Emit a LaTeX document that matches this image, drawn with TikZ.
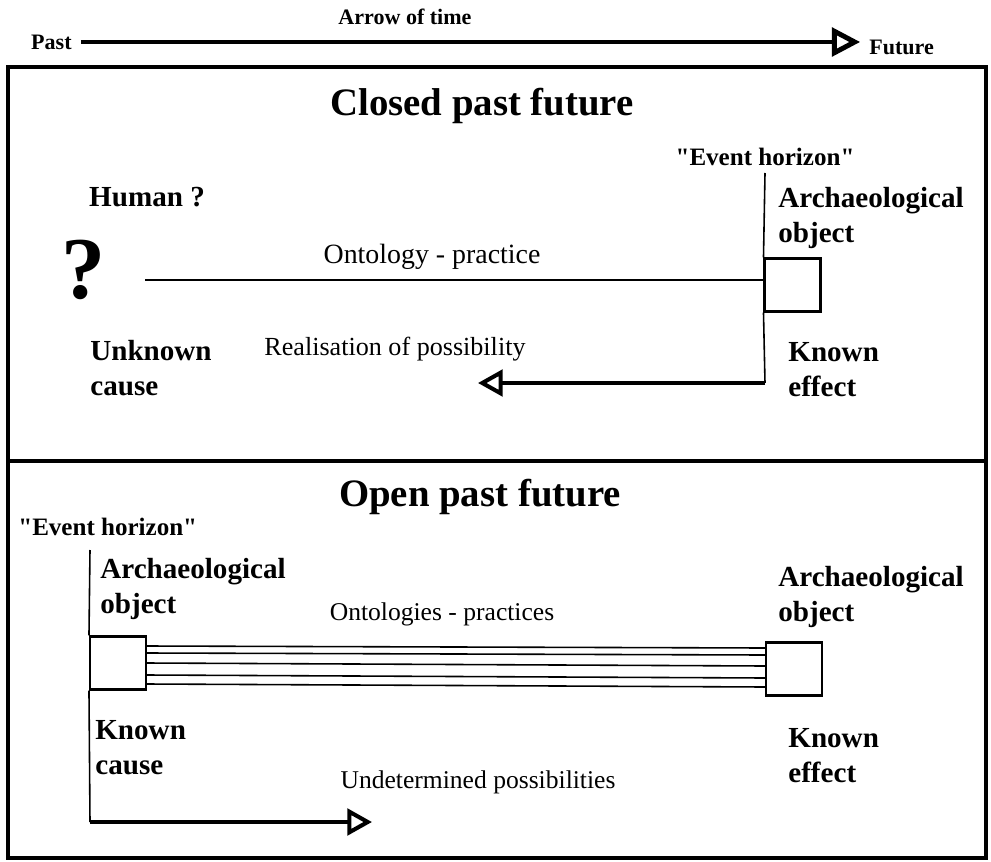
\documentclass[tikz,border=0pt]{standalone}
\usepackage{fontspec}
\setmainfont{Liberation Serif}
\usetikzlibrary{arrows.meta,positioning,calc}

\begin{document}
\begin{tikzpicture}[x=0.5669pt, y=-0.5669pt,
    lbl/.style={font=\bfseries\fontsize{16.5}{20}\selectfont, align=left, inner sep=0pt, anchor=north west},
    note/.style={font=\fontsize{14.5}{17}\selectfont, inner sep=0pt},
    heading/.style={font=\bfseries\fontsize{22}{26}\selectfont, inner sep=0pt},
    horizon/.style={font=\bfseries\fontsize{14.2}{16}\selectfont, inner sep=0pt},
    artefact/.style={draw, line width=1.4pt, minimum width=31.5pt, minimum height=30pt, inner sep=0pt},
    bigarrow/.style={line width=2.3pt, line join=miter, -{Triangle[open, length=14pt, width=15pt]}}]
    \useasboundingbox (0,0) rectangle (991,861);

    % Arrow of time
    \node[font=\bfseries\fontsize{12.5}{15}\selectfont, inner sep=0pt] (aot) at (405,17) {Arrow of time};
    \node[font=\bfseries\fontsize{12.5}{15}\selectfont, inner sep=0pt, anchor=east] (past) at (72,42) {Past};
    \node[font=\bfseries\fontsize{12.5}{15}\selectfont, inner sep=0pt, anchor=west] (future) at (869,47) {Future};
    \draw[line width=2.8pt, line join=miter, -{Triangle[open, length=16pt, width=16pt]}] ([xshift=5pt]past.east) -- ([xshift=-5pt]future.west |- past.east);

    % Frame
    \draw[line width=2.3pt] (8,67) rectangle (986,858);
    \draw[line width=2.8pt] (8,461) -- (986,461);

    % Closed past future
    \node[heading] (closed) at (482,106) {Closed past future};
    \node[horizon] (eh1) at (765,157) {\textquotedbl Event horizon\textquotedbl};
    \node[font=\bfseries\fontsize{16.5}{20}\selectfont, inner sep=0pt] (human) at (147,197) {Human ?};
    \node[font=\bfseries\fontsize{50}{50}\selectfont, inner sep=0pt] (qmark) at (84,270) {?};
    \node[lbl] (obj1) at (778,187) {Archaeological\\object};
    \node[artefact] (box1) at (792.5,285) {};
    \coordinate (ont1) at (145,280);
    \draw[line width=0.9pt] (ont1) -- (ont1 -| box1.west);
    \node[note, font=\fontsize{15.8}{18}\selectfont] (ontology) at (432,257) {Ontology - practice};

    \coordinate (eh1foot) at (765,173);
    \coordinate (turn1) at (765,383);
    \coordinate (tip1) at (478,383);
    \draw[line width=0.9pt] (eh1foot) -- (box1.north west);
    \draw[line width=0.9pt] (box1.south west) -- (turn1);
    \draw[bigarrow] (turn1) -- (tip1);
    \node[note, font=\fontsize{14.8}{17}\selectfont] (realise) at (395,349) {Realisation of possibility};
    \node[lbl] (cause1) at (90,340) {Unknown\\cause};
    \node[lbl] (effect1) at (788,342) {Known\\effect};

    % Open past future
    \node[heading] (open) at (480,497) {Open past future};
    \node[horizon, anchor=west] (eh2) at (18,527) {\textquotedbl Event horizon\textquotedbl};
    \node[artefact] (box2) at (118,663) {};
    \node[artefact] (box3) at (794,669) {};
    \node[lbl] (obj2) at (100,558) {Archaeological\\object};
    \node[lbl] (obj3) at (778,566) {Archaeological\\object};
    \node[note] (ontologies) at (442,614) {Ontologies - practices};
    \foreach \a/\b in {-17/-21, -10/-14, 0/-3, 12/9, 21/18}
        \draw[line width=0.9pt] ($(box2.east)+(0,\a)$) -- ($(box3.west)+(0,\b)$);

    \coordinate (eh2foot) at (90,550);
    \coordinate (turn2) at (90,822);
    \coordinate (tip2) at (372,822);
    \draw[line width=0.9pt] (eh2foot) -- (box2.north west);
    \draw[line width=0.9pt] (box2.south west) -- (turn2);
    \draw[bigarrow] (turn2) -- (tip2);
    \node[note] (undet) at (478,782) {Undetermined possibilities};
    \node[lbl] (cause2) at (95,720) {Known\\cause};
    \node[lbl] (effect2) at (788,728) {Known\\effect};
\end{tikzpicture}
\end{document}
